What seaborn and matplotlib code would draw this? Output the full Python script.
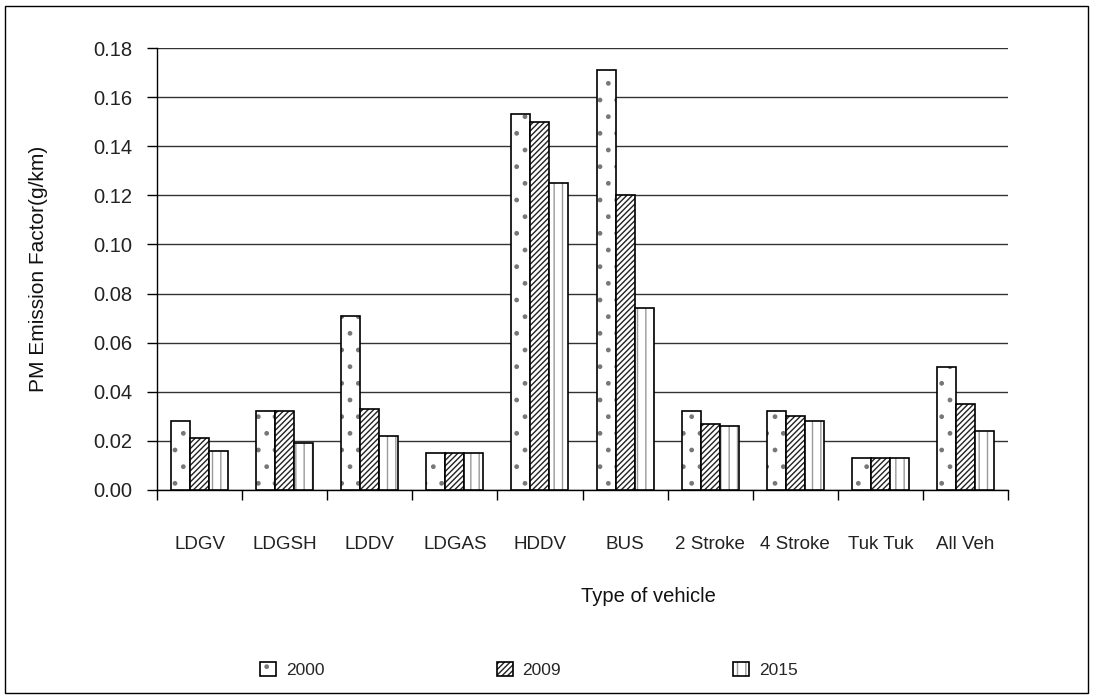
import numpy as np
import pandas as pd
import matplotlib
matplotlib.use("Agg")
import matplotlib.pyplot as plt
import matplotlib.patches as mpatches
from matplotlib.colors import to_rgba
import seaborn as sns

vehicles = ["LDGV", "LDGSH", "LDDV", "LDGAS", "HDDV", "BUS",
            "2 Stroke", "4 Stroke", "Tuk Tuk", "All Veh"]
years = ["2000", "2009", "2015"]
pm_2000 = [0.028, 0.032, 0.071, 0.015, 0.153, 0.171, 0.032, 0.032, 0.013, 0.050]
pm_2009 = [0.021, 0.032, 0.033, 0.015, 0.150, 0.120, 0.027, 0.030, 0.013, 0.035]
pm_2015 = [0.016, 0.019, 0.022, 0.015, 0.125, 0.074, 0.026, 0.028, 0.013, 0.024]
hatches = [".", "//////", "||"]
hatch_colors = ["#777777", "#222222", "#9a9a9a"]


def set_hatch_color(patch, color):
    # matplotlib ties hatch colour to edgecolor; override it separately
    if hasattr(patch, "set_hatchcolor"):
        patch.set_hatchcolor(color)
    else:
        patch._hatch_color = to_rgba(color)


def main() -> None:
    df = pd.DataFrame({
        "vehicle": vehicles * 3,
        "year": np.repeat(years, len(vehicles)),
        "pm": pm_2000 + pm_2009 + pm_2015,
    })

    sns.set_style("white")
    plt.rcParams["font.family"] = ["Liberation Sans", "DejaVu Sans"]
    plt.rcParams["hatch.linewidth"] = 1.0

    fig = plt.figure(figsize=(10.94, 6.99), dpi=100)
    ax = fig.add_axes([0.1435, 0.299, 0.7779, 0.6323])

    sns.barplot(data=df, x="vehicle", y="pm", hue="year", order=vehicles,
                hue_order=years, width=0.67, gap=0,
                palette=["white"] * 3, edgecolor="black", linewidth=1.2,
                legend=False, ax=ax, zorder=3)
    for cont, h, hc in zip(ax.containers, hatches, hatch_colors):
        for bar in cont:
            bar.set_hatch(h)
            set_hatch_color(bar, hc)

    ax.set_xlim(-0.5, len(vehicles) - 0.5)
    ax.set_ylim(0, 0.18)
    yt = np.arange(0, 0.181, 0.02)
    ax.set_yticks(yt)
    ax.set_yticklabels([f"{v:.2f}" for v in yt])
    ax.yaxis.grid(True, color="#333333", linewidth=1.0, zorder=0)
    ax.set_axisbelow(True)

    ax.set_xticks(np.arange(-0.5, len(vehicles), 1.0))
    ax.set_xticklabels([])
    ax.set_xticks(np.arange(len(vehicles)), minor=True)
    ax.set_xticklabels(vehicles, minor=True)
    ax.tick_params(axis="x", which="major", direction="out", length=7,
                   width=1, color="black", bottom=True)
    ax.tick_params(axis="x", which="minor", length=0, pad=33, labelsize=13.5,
                   labelcolor="#222222")
    ax.tick_params(axis="y", direction="out", length=7, width=1, pad=10.5,
                   color="black", left=True, labelsize=14.5, labelcolor="#222222")

    for s in ["top", "right"]:
        ax.spines[s].set_visible(False)
    for s in ["left", "bottom"]:
        ax.spines[s].set_color("black")
        ax.spines[s].set_linewidth(1.0)

    ax.set_xlabel("Type of vehicle", fontsize=14.5, color="#111111")
    ax.xaxis.set_label_coords(0.578, -0.22)
    ax.set_ylabel("PM Emission Factor(g/km)", fontsize=15, color="#111111")
    ax.yaxis.set_label_coords(-0.128, 0.5)

    handles = []
    for y, h, hc in zip(years, hatches, hatch_colors):
        p = mpatches.Patch(facecolor="white", edgecolor="black",
                           linewidth=1.2, hatch=h, label=y)
        set_hatch_color(p, hc)
        handles.append(p)
    leg = fig.legend(handles=handles, loc="center",
                     bbox_to_anchor=(0.4835, 0.0415), ncol=3, frameon=False,
                     fontsize=12.5, handlelength=0.92, handleheight=0.9,
                     handletextpad=0.57, columnspacing=9.9)
    for p, hc in zip(leg.get_patches(), hatch_colors):
        set_hatch_color(p, hc)

    fig.patches.append(mpatches.Rectangle(
        (5 / 1094, 6 / 699), 1083 / 1094, 687 / 699, transform=fig.transFigure,
        fill=False, edgecolor="black", linewidth=1.0))

    fig.savefig("out.png", dpi=100)


if __name__ == "__main__":
    main()
